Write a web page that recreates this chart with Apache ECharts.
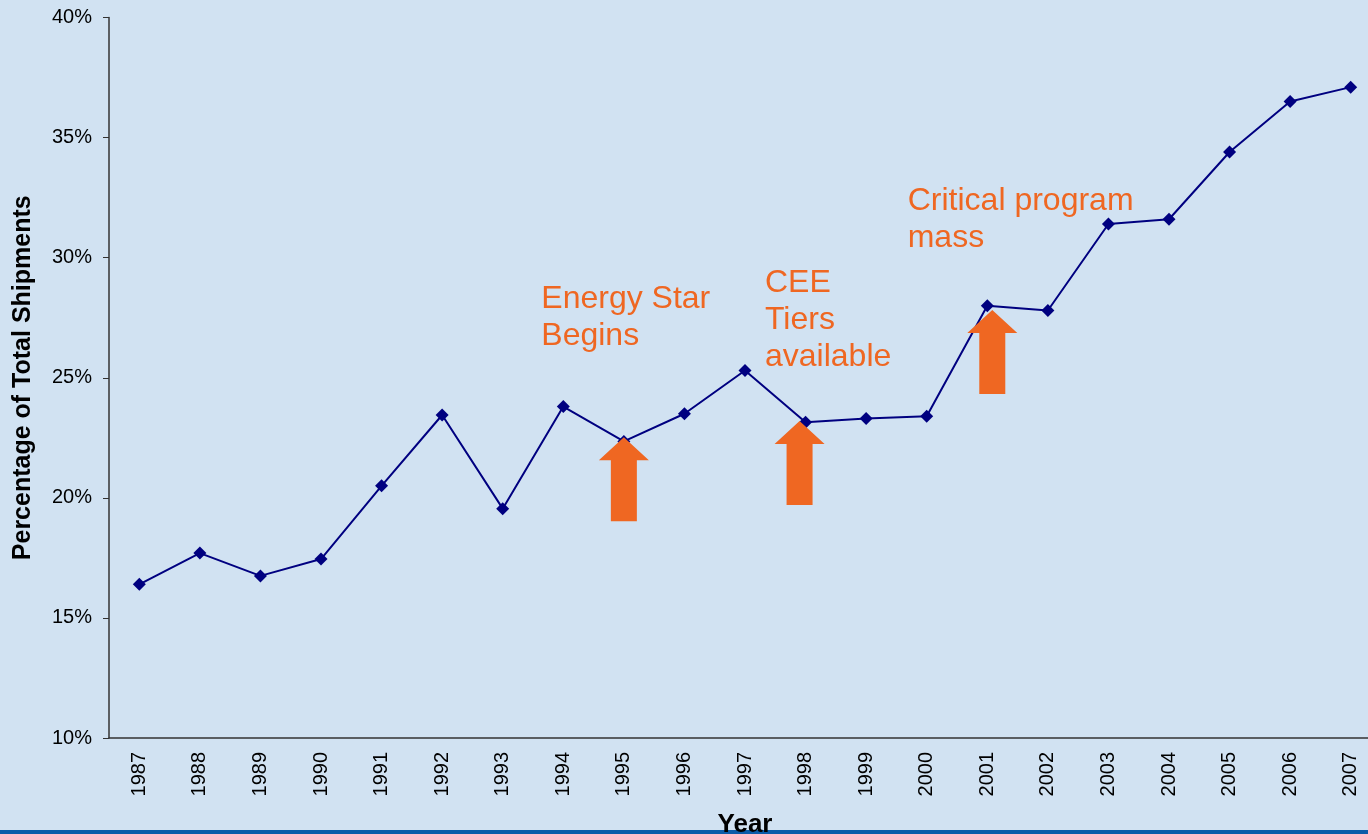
<!DOCTYPE html>
<html>
<head>
<meta charset="utf-8">
<script src="https://cdn.jsdelivr.net/npm/echarts@6/dist/echarts.min.js"></script>
<style>
  html, body { margin: 0; padding: 0; background: #d1e2f2; }
  #chart { width: 1368px; height: 834px; }
</style>
</head>
<body>
<div id="chart"></div>
<script>
const years = ['1987', '1988', '1989', '1990', '1991', '1992', '1993', '1994', '1995', '1996', '1997',
  '1998', '1999', '2000', '2001', '2002', '2003', '2004', '2005', '2006', '2007'];
const shares = [16.4, 17.7, 16.75, 17.45, 20.5, 23.45, 19.55, 23.8, 22.35, 23.5, 25.3,
  23.15, 23.3, 23.4, 28.0, 27.8, 31.4, 31.6, 34.4, 36.5, 37.1];

// orange arrows: year, tip value, base value
const arrowYears = ['1995', '1998', '2001'];
const arrowTips = [22.5, 23.2, 27.8];
const arrowBases = [19.05, 19.7, 24.35];

// annotation texts: anchored at a year / value (top-left of text)
const noteTexts = ['Energy Star\nBegins', 'CEE\nTiers\navailable', 'Critical program\nmass'];
const noteYears = ['1994', '1997', '2000'];
const noteValues = [29.04, 29.71, 33.12];

const ORANGE = '#ef6722';
const FONT = '"Liberation Sans", Arial, sans-serif';

const chart = echarts.init(document.getElementById('chart'));

const arrowPath = 'path://M25 0 L50 23 L38 23 L38 84 L12 84 L12 23 L0 23 Z';
const arrowShift = [0, -6, 5];
const noteShift = [-22, 20, -19];

const option = {
  backgroundColor: '#d1e2f2',
  animation: false,
  textStyle: { fontFamily: FONT },
  grid: {
    left: 109,
    top: 17.5,
    width: 1272,
    bottom: 96,
    containLabel: false,
    outerBoundsMode: 'none',
  },
  xAxis: {
    type: 'category',
    data: years,
    name: 'Year',
    nameLocation: 'middle',
    nameGap: 74,
    nameTextStyle: { fontSize: 26, fontWeight: 'bold', color: '#000', fontFamily: FONT },
    axisLine: { lineStyle: { color: '#333', width: 1.5 } },
    axisTick: { length: 6, lineStyle: { color: '#333' } },
    axisLabel: { rotate: 90, fontSize: 20, color: '#000', margin: 14, fontFamily: FONT },
    splitLine: { show: false },
  },
  yAxis: {
    type: 'value',
    min: 10,
    max: 40,
    interval: 5,
    name: 'Percentage of Total Shipments',
    nameLocation: 'middle',
    nameRotate: 90,
    nameGap: 73,
    nameTextStyle: { fontSize: 25, fontWeight: 'bold', color: '#000', fontFamily: FONT },
    axisLine: { show: true, lineStyle: { color: '#333', width: 1.5 } },
    axisTick: { show: true, length: 6, lineStyle: { color: '#333' } },
    axisLabel: { formatter: '{value}%', fontSize: 20, color: '#000', margin: 17, fontFamily: FONT },
    splitLine: { show: false },
  },
  series: [
    {
      type: 'line',
      data: shares,
      symbol: 'diamond',
      symbolSize: 13,
      color: '#000080',
      lineStyle: { color: '#000080', width: 2 },
      itemStyle: { color: '#000080' },
      z: 2,
      markPoint: {
        silent: true,
        z: 5,
        data: arrowYears.map((y, i) => ({
          coord: [y, (arrowTips[i] + arrowBases[i]) / 2],
          symbol: arrowPath,
          symbolSize: [50, 84],
          symbolOffset: [arrowShift[i], 0],
          itemStyle: { color: ORANGE },
          label: { show: false },
        })).concat(noteTexts.map((t, i) => ({
          coord: [noteYears[i], noteValues[i]],
          symbol: 'circle',
          symbolSize: 0,
          itemStyle: { color: 'transparent' },
          label: {
            show: true,
            formatter: t,
            position: [noteShift[i], 0],
            align: 'left',
            verticalAlign: 'top',
            fontSize: 32,
            lineHeight: 37,
            color: ORANGE,
            fontFamily: FONT,
          },
        }))),
      },
    },
  ],
  graphic: [
    {
      type: 'rect',
      left: 0,
      bottom: 0,
      shape: { width: 1368, height: 4 },
      style: { fill: '#0b5ca8' },
    },
  ],
};

chart.setOption(option);
</script>
</body>
</html>
